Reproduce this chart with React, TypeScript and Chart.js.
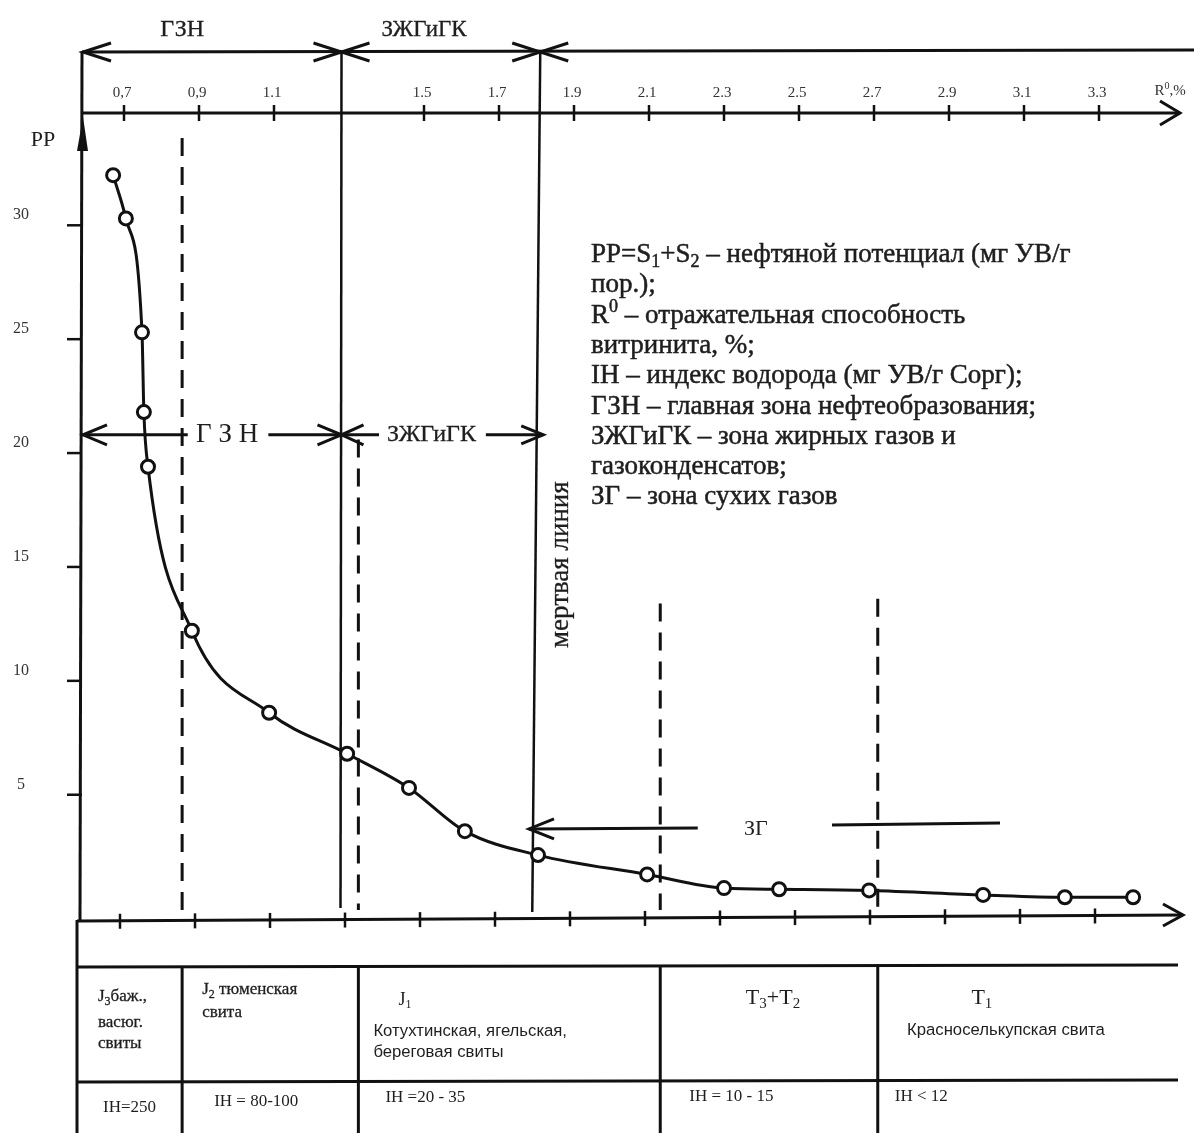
import React, { useEffect, useRef } from "react";
import { Chart, registerables } from "chart.js";

Chart.register(...registerables);

// ---- data ----
const reflectance = [0.671, 0.705, 0.748, 0.753, 0.764, 0.881, 1.087, 1.295, 1.46, 1.609, 1.804, 2.095, 2.3, 2.447, 2.687, 2.991, 3.209, 3.391];
const potential = [32.2, 30.3, 25.3, 21.8, 19.4, 12.2, 8.6, 6.8, 5.3, 3.4, 2.35, 1.5, 0.9, 0.85, 0.8, 0.6, 0.5, 0.5];

const topTickValues = [0.7, 0.9, 1.1, 1.5, 1.7, 1.9, 2.1, 2.3, 2.5, 2.7, 2.9, 3.1, 3.3];
const topTickLabels = ["0,7", "0,9", "1.1", "1.5", "1.7", "1.9", "2.1", "2.3", "2.5", "2.7", "2.9", "3.1", "3.3"];
const bottomTickValues = [0.7, 0.9, 1.1, 1.3, 1.5, 1.7, 1.9, 2.1, 2.3, 2.5, 2.7, 2.9, 3.1, 3.3];
const ppTickValues = [5, 10, 15, 20, 25, 30];

const zoneBounds = [1.28, 1.81]; // ГЗН | ЗЖГиГК | ЗГ
const zoneNames = ["ГЗН", "ЗЖГиГК"];
const stratBounds = [0.855, 1.325, 2.13, 2.71];

const legendLines = [
  "PP=S_{1}+S_{2} – нефтяной потенциал (мг УВ/г",
  "пор.);",
  "R^{0} – отражательная способность",
  "витринита, %;",
  "IH – индекс водорода (мг УВ/г Сорг);",
  "ГЗН – главная зона нефтеобразования;",
  "ЗЖГиГК – зона жирных газов и",
  "газоконденсатов;",
  "ЗГ – зона сухих газов",
];

const formationAges = ["J_{3}баж.,", "J_{2} тюменская", "J_{1}", "T_{3}+T_{2}", "T_{1}"];
const formationNotes = [["васюг.", "свиты"], ["свита"], ["Котухтинская, ягельская,", "береговая свиты"], [], ["Красноселькупская свита"]];
const ihValues = ["IH=250", "IH = 80-100", "IH =20 - 35", "IH = 10 - 15", "IH < 12"];

// ---- drawing helpers ----
const SERIF = '"Liberation Serif", "Times New Roman", serif';
const SANS = '"Liberation Sans", Arial, sans-serif';
const INK = "#111";
const TXT = "#1e1e1e";

function seg(ctx: any, x1: number, y1: number, x2: number, y2: number, w = 3, dash: number[] = []) {
  ctx.save();
  ctx.beginPath();
  ctx.setLineDash(dash);
  ctx.lineWidth = w;
  ctx.strokeStyle = INK;
  ctx.moveTo(x1, y1);
  ctx.lineTo(x2, y2);
  ctx.stroke();
  ctx.restore();
}

function chevron(ctx: any, x: number, y: number, dir: string, len: number, half: number, w = 3) {
  ctx.save();
  ctx.beginPath();
  ctx.lineWidth = w;
  ctx.strokeStyle = INK;
  ctx.lineJoin = "miter";
  if (dir === "left" || dir === "right") {
    const dx = dir === "right" ? -len : len;
    ctx.moveTo(x + dx, y - half);
    ctx.lineTo(x, y);
    ctx.lineTo(x + dx, y + half);
  } else {
    const dy = dir === "up" ? len : -len;
    ctx.moveTo(x - half, y + dy);
    ctx.lineTo(x, y);
    ctx.lineTo(x + half, y + dy);
  }
  ctx.stroke();
  ctx.restore();
}

function richText(ctx: any, text: string, x: number, y: number, size: number, family = SERIF, align = "left", color = TXT, heavy = 0) {
  const parts: any[] = [];
  const re = /(_\{[^}]*\}|\^\{[^}]*\})/g;
  let last = 0;
  let m: any;
  while ((m = re.exec(text))) {
    if (m.index > last) parts.push({ t: text.slice(last, m.index), k: "n" });
    parts.push({ t: m[0].slice(2, -1), k: m[0][0] === "_" ? "sub" : "sup" });
    last = m.index + m[0].length;
  }
  if (last < text.length) parts.push({ t: text.slice(last), k: "n" });
  const small = Math.round(size * 0.68);
  let total = 0;
  for (const p of parts) {
    ctx.font = `${p.k === "n" ? size : small}px ${family}`;
    p.w = ctx.measureText(p.t).width;
    total += p.w;
  }
  let cx = align === "center" ? x - total / 2 : align === "right" ? x - total : x;
  ctx.save();
  ctx.fillStyle = color;
  ctx.strokeStyle = color;
  ctx.lineWidth = heavy;
  ctx.textAlign = "left";
  ctx.textBaseline = "middle";
  for (const p of parts) {
    ctx.font = `${p.k === "n" ? size : small}px ${family}`;
    const dy = p.k === "sub" ? size * 0.28 : p.k === "sup" ? -size * 0.32 : 0;
    ctx.fillText(p.t, cx, y + dy);
    if (heavy > 0) ctx.strokeText(p.t, cx, y + dy);
    cx += p.w;
  }
  ctx.restore();
}

const diagramPlugin = {
  id: "diagram",
  beforeDraw(chart: any) {
    const { ctx } = chart;
    ctx.save();
    ctx.fillStyle = "#fff";
    ctx.fillRect(0, 0, chart.width, chart.height);
    ctx.restore();
  },
  beforeDatasetsDraw(chart: any) {
    const { ctx, chartArea: a } = chart;
    const xs = chart.scales.x;
    const ys = chart.scales.y;
    const X = (v: number) => xs.getPixelForValue(v);
    const Y = (v: number) => ys.getPixelForValue(v);
    const L = a.left, T = a.top, B = a.bottom, R = a.right;
    const zoneY = T - 61;

    // ---- top zone band ----
    seg(ctx, L, zoneY, chart.width, zoneY - 2, 3);
    chevron(ctx, L + 1, zoneY, "left", 28, 9, 3);
    zoneBounds.forEach((r, i) => {
      seg(ctx, X(r), zoneY, X(r) - (i === 1 ? 8 : 1), B - 12 + i * 4, 2.5);
      chevron(ctx, X(r), zoneY, "right", 28, 9, 3);
      chevron(ctx, X(r), zoneY, "left", 28, 9, 3);
    });
    richText(ctx, zoneNames[0], X(0.855), zoneY - 22, 24, SERIF, "center", TXT, 0.3);
    richText(ctx, zoneNames[1], X(1.5), zoneY - 22, 23, SERIF, "center", TXT, 0.3);

    // ---- y axis ----
    seg(ctx, L, zoneY, L - 2, B, 3);
    ctx.save();
    ctx.fillStyle = INK;
    ctx.beginPath();
    ctx.moveTo(L + 1, T + 4);
    ctx.lineTo(L - 5, T + 38);
    ctx.lineTo(L + 6, T + 38);
    ctx.closePath();
    ctx.fill();
    ctx.restore();
    ppTickValues.forEach((v) => {
      seg(ctx, L - 15, Y(v), L, Y(v), 2.5);
      richText(ctx, String(v), 21, Y(v) - 10, 16, SERIF, "center", "#333");
    });
    richText(ctx, "PP", 43, T + 27, 22, SERIF, "center");

    // ---- top R axis ----
    seg(ctx, L, T, R, T, 3);
    chevron(ctx, R, T, "right", 20, 12, 3);
    topTickValues.forEach((v, i) => {
      seg(ctx, X(v), T - 8, X(v), T + 8, 2.5);
      richText(ctx, topTickLabels[i], X(v) - 2, T - 20, 15, SERIF, "center", "#333");
    });
    richText(ctx, "R^{0},%", R - 10, T - 22, 15, SERIF, "center", "#333");

    // ---- bottom axis ----
    const bx0 = L - 5, bx1 = R + 3;
    const byAt = (x: number) => B + 1 - (6 * (x - bx0)) / (bx1 - bx0);
    seg(ctx, bx0, byAt(bx0), bx1, byAt(bx1), 3);
    chevron(ctx, bx1, byAt(bx1), "right", 20, 11, 3);
    bottomTickValues.forEach((v) => {
      const by = byAt(X(v) - 4);
      seg(ctx, X(v) - 4, by - 7, X(v) - 4, by + 8, 2.5);
    });

    // ---- dashed boundaries ----
    const dashTops = [T + 25, Y(20.6), Y(13.4), Y(13.6)];
    stratBounds.forEach((r, i) => {
      seg(ctx, X(r), dashTops[i], X(r), B - 10, 3, [18, 11]);
    });

    // ---- middle zone arrows ----
    const midY = Y(20.8);
    const zb0 = X(zoneBounds[0]);
    seg(ctx, L, midY, X(0.87), midY, 3);
    chevron(ctx, L + 1, midY, "left", 24, 10, 3);
    richText(ctx, "Г З Н", X(0.975), midY, 27, SERIF, "center");
    seg(ctx, X(1.085), midY, zb0, midY, 3);
    chevron(ctx, zb0, midY, "right", 24, 10, 3);
    seg(ctx, zb0, midY, X(1.38), midY, 3);
    chevron(ctx, zb0, midY, "left", 22, 10, 3);
    richText(ctx, "ЗЖГиГК", X(1.52), midY, 24, SERIF, "center", TXT, 0.3);
    seg(ctx, X(1.665), midY, X(1.818), midY, 3);
    chevron(ctx, X(1.818), midY, "right", 22, 9, 3);

    // ---- ЗГ arrow ----
    const zgY = Y(3.5);
    chevron(ctx, X(1.78), zgY, "left", 25, 10, 3);
    seg(ctx, X(1.78), zgY, X(2.23), zgY - 1, 3);
    richText(ctx, "ЗГ", X(2.385), zgY, 22, SERIF, "center");
    seg(ctx, X(2.588), zgY - 4, X(3.036), zgY - 6, 3);

    // ---- dead line label ----
    ctx.save();
    ctx.translate(X(1.864), Y(15.1));
    ctx.rotate(-Math.PI / 2);
    richText(ctx, "мертвая линия", 0, 0, 27, SERIF, "center", TXT, 0.3);
    ctx.restore();

    // ---- legend block ----
    legendLines.forEach((s, i) => {
      richText(ctx, s, 591, 255 + i * 30.3, 27, SERIF, "left", TXT, 0.5);
    });

    // ---- stratigraphic table ----
    const tL = L - 5;
    const tR = R - 2;
    const row1 = B + 47;
    const row2 = B + 162;
    const bottom = chart.height;
    seg(ctx, tL, B, tL, bottom, 3);
    seg(ctx, tL, row1, tR, row1 - 2, 3);
    seg(ctx, tL, row2, tR, row2 - 2, 3);
    const cols = [tL, ...stratBounds.map((r) => X(r)), tR];
    stratBounds.forEach((r) => seg(ctx, X(r), row1, X(r), bottom, 3));

    // column 1
    richText(ctx, formationAges[0], cols[0] + 21, B + 77, 17, SERIF, "left", TXT, 0.3);
    richText(ctx, formationNotes[0][0], cols[0] + 21, B + 103, 17, SERIF, "left", TXT, 0.3);
    richText(ctx, formationNotes[0][1], cols[0] + 21, B + 124, 17, SERIF, "left", TXT, 0.3);
    richText(ctx, ihValues[0], (cols[0] + cols[1]) / 2, B + 188, 17, SERIF, "center");
    // column 2
    richText(ctx, formationAges[1], cols[1] + 20, B + 70, 17, SERIF, "left", TXT, 0.3);
    richText(ctx, formationNotes[1][0], cols[1] + 20, B + 93, 17, SERIF, "left", TXT, 0.3);
    richText(ctx, ihValues[1], cols[1] + 32, B + 182, 17, SERIF);
    // column 3
    richText(ctx, formationAges[2], cols[2] + 40, B + 80, 18, SERIF);
    richText(ctx, formationNotes[2][0], cols[2] + 15, B + 111, 16.7, SANS);
    richText(ctx, formationNotes[2][1], cols[2] + 15, B + 132, 16.7, SANS);
    richText(ctx, ihValues[2], cols[2] + 27, B + 178, 17, SERIF);
    // column 4
    richText(ctx, formationAges[3], (cols[3] + cols[4]) / 2 + 4, B + 78, 22, SERIF, "center");
    richText(ctx, ihValues[3], cols[3] + 29, B + 177, 17, SERIF);
    // column 5
    richText(ctx, formationAges[4], (cols[4] + cols[5]) / 2 - 46, B + 78, 22, SERIF, "center");
    richText(ctx, formationNotes[4][0], (cols[4] + cols[5]) / 2 - 22, B + 110, 16.7, SANS, "center");
    richText(ctx, ihValues[4], cols[4] + 17, B + 177, 17, SERIF);
  },
};

export default function App() {
  const ref = useRef<HTMLCanvasElement>(null);
  useEffect(() => {
    document.body.style.margin = "0";
    document.body.style.overflow = "hidden";
    const canvas = ref.current!;
    const chart = new Chart(canvas, {
      type: "line",
      data: {
        datasets: [
          {
            data: reflectance.map((r, i) => ({ x: r, y: potential[i] })),
            borderColor: INK,
            borderWidth: 3,
            cubicInterpolationMode: "monotone",
            pointRadius: 6.5,
            pointBorderWidth: 3,
            pointBackgroundColor: "#fff",
            pointBorderColor: INK,
            fill: false,
          } as any,
        ],
      },
      options: {
        responsive: false,
        animation: false,
        devicePixelRatio: 1,
        events: [],
        layout: { padding: { left: 82, right: 14, top: 113, bottom: 213 } },
        scales: {
          x: { type: "linear", min: 0.588, max: 3.516, display: false },
          y: { type: "linear", min: -0.5, max: 34.93, display: false },
        },
        plugins: { legend: { display: false }, tooltip: { enabled: false } },
      } as any,
      plugins: [diagramPlugin as any],
    });
    return () => chart.destroy();
  }, []);
  return (
    <div style={{ width: 1194, height: 1133 }}>
      <canvas ref={ref} width={1194} height={1133} style={{ display: "block" }} />
    </div>
  );
}
